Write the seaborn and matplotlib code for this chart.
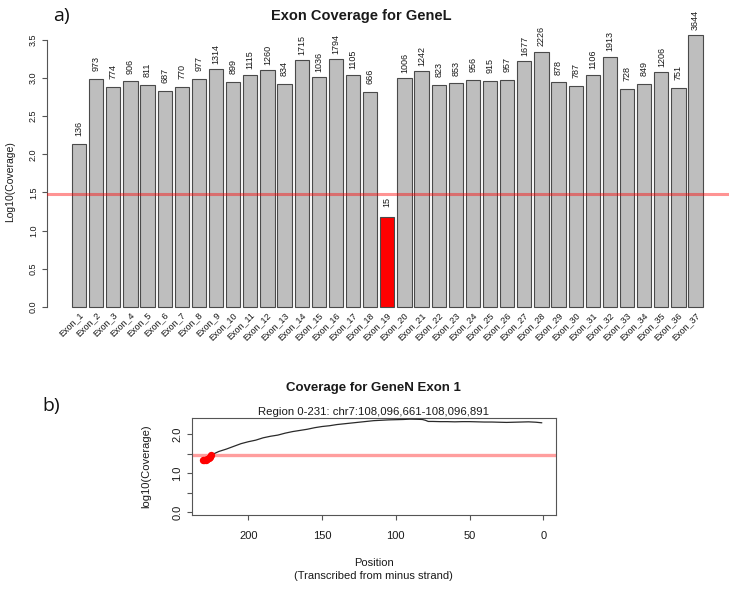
import numpy as np
import pandas as pd
import matplotlib
matplotlib.use("Agg")
import matplotlib.pyplot as plt
import seaborn as sns

# ---------------- data ----------------
exon_names = ["Exon_1", "Exon_2", "Exon_3", "Exon_4", "Exon_5", "Exon_6", "Exon_7",
              "Exon_8", "Exon_9", "Exon_10", "Exon_11", "Exon_12", "Exon_13", "Exon_14",
              "Exon_15", "Exon_16", "Exon_17", "Exon_18", "Exon_19", "Exon_20", "Exon_21",
              "Exon_22", "Exon_23", "Exon_24", "Exon_25", "Exon_26", "Exon_27", "Exon_28",
              "Exon_29", "Exon_30", "Exon_31", "Exon_32", "Exon_33", "Exon_34", "Exon_35",
              "Exon_36", "Exon_37"]
exon_counts = [136, 973, 774, 906, 811, 687, 770, 977, 1314, 899, 1115, 1260, 834,
               1715, 1036, 1794, 1105, 666, 15, 1006, 1242, 823, 853, 956, 915, 957,
               1677, 2226, 878, 787, 1106, 1913, 728, 849, 1206, 751, 3644]
threshold = 30

# panel b: per-position log10 coverage
low_pos = [231, 230, 229, 228, 227, 226, 225]
low_val = [1.33, 1.33, 1.35, 1.37, 1.40, 1.43, 1.46]
line_pos = [224, 220, 215, 210, 205, 200, 195, 190, 185, 180, 175, 170, 165, 160,
            155, 150, 145, 140, 135, 130, 125, 120, 115, 110, 105, 100, 95, 90, 85,
            82, 80, 78, 75, 70, 65, 60, 55, 50, 45, 40, 35, 30, 25, 20, 15, 10, 5, 1]
line_val = [1.49, 1.56, 1.62, 1.69, 1.76, 1.81, 1.85, 1.91, 1.95, 1.98, 2.03, 2.07,
            2.10, 2.13, 2.17, 2.20, 2.22, 2.25, 2.27, 2.29, 2.31, 2.33, 2.35, 2.36,
            2.37, 2.375, 2.38, 2.39, 2.385, 2.38, 2.36, 2.33, 2.33, 2.325, 2.325,
            2.32, 2.325, 2.325, 2.32, 2.315, 2.315, 2.31, 2.305, 2.31, 2.315, 2.32,
            2.31, 2.295]
b_xticks = [200, 150, 100, 50, 0]
b_yticks = [0.0, 0.5, 1.0, 1.5, 2.0]
b_yticklabels = ["0.0", "", "1.0", "", "2.0"]

# ---------------- style ----------------
sns.set_theme(style="white")
plt.rcParams["font.family"] = ["Liberation Sans", "DejaVu Sans"]
AX = "#555555"
TXT = "#1a1a1a"

W, H = 733, 589
fig = plt.figure(figsize=(W / 100, H / 100), dpi=100)


def rect(x0, y0, x1, y1):
    return [x0 / W, 1 - y1 / H, (x1 - x0) / W, (y1 - y0) / H]


# ---------------- panel a ----------------
axa = fig.add_axes(rect(47, 24.5, 729, 317.6))
df = pd.DataFrame({"exon": exon_names, "count": exon_counts})
df["logcov"] = np.log10(df["count"])
df["flag"] = np.where(df["count"] < threshold, "low", "ok")
sns.barplot(data=df, x="exon", y="logcov", hue="flag",
            palette={"low": "#ff0000", "ok": "#bebebe"}, saturation=1,
            width=0.835, dodge=False, edgecolor="#4a4a4a", linewidth=0.8,
            legend=False, ax=axa, zorder=2)
axa.set_xlim(-1.87, 37.95)
axa.set_ylim(-0.1425, 3.704)
axa.axhline(np.log10(threshold), color="#ff0000", alpha=0.42, lw=2.2, zorder=5)

for i, (c, h) in enumerate(zip(df["count"], df["logcov"])):
    axa.text(i, h + 0.2, str(c), rotation=90, ha="center", va="center",
             fontsize=6.5, color=TXT)
for i, name in enumerate(exon_names):
    axa.text(i - 0.05, -0.05, name, rotation=45, ha="right", va="top",
             rotation_mode="anchor", fontsize=6.5, color=TXT, clip_on=False)

axa.set_xticks([])
axa.set_xlabel("")
yt = np.arange(0, 3.51, 0.5)
axa.set_yticks(yt)
axa.set_yticklabels([f"{v:.1f}" for v in yt], rotation=90, va="center",
                    fontsize=6.5, color=TXT)
for s in ["top", "right", "bottom"]:
    axa.spines[s].set_visible(False)
axa.spines["left"].set_bounds(0, 3.5)
axa.spines["left"].set_color(AX)
axa.spines["left"].set_linewidth(0.8)
axa.tick_params(axis="y", direction="out", length=3.6, width=0.8, color=AX,
                pad=3, left=True)
axa.set_ylabel("Log10(Coverage)", fontsize=7.5, color=TXT)
axa.yaxis.set_label_coords(-0.047, 0.4626)
axa.set_title("Exon Coverage for GeneL", fontsize=10.5, fontweight="bold",
              color=TXT, x=0.4604, pad=3.2)

# ---------------- panel b ----------------
axb = fig.add_axes(rect(191.7, 417.7, 556, 515))
all_pos = low_pos + line_pos
all_val = low_val + line_val
sns.lineplot(x=all_pos, y=all_val, ax=axb, color="#2a2a2a", linewidth=0.9,
             estimator=None, sort=False, zorder=3)
sns.scatterplot(x=low_pos, y=low_val, ax=axb, color="#ff0000", s=28,
                linewidth=0, zorder=4)
axb.axhline(np.log10(threshold), color="#ff0000", alpha=0.38, lw=2.4, zorder=2)
axb.set_xlim(238.4, -8.6)
axb.set_ylim(-0.069, 2.426)
axb.set_xticks(b_xticks)
axb.set_xticklabels([str(v) for v in b_xticks], fontsize=8, color=TXT)
axb.set_yticks(b_yticks)
axb.set_yticklabels(b_yticklabels, rotation=90, va="center", fontsize=8, color=TXT)
for s in axb.spines.values():
    s.set_visible(True)
    s.set_color(AX)
    s.set_linewidth(0.8)
axb.tick_params(axis="both", direction="out", length=3.6, width=0.8, color=AX,
                bottom=True, left=True)
axb.tick_params(axis="x", pad=8)
axb.tick_params(axis="y", pad=3)
axb.set_xlabel("Position\n(Transcribed from minus strand)", fontsize=8,
               color=TXT, linespacing=1.35)
axb.xaxis.set_label_coords(0.5, -0.44)
axb.set_ylabel("log10(Coverage)", fontsize=8, color=TXT)
axb.yaxis.set_label_coords(-0.112, 0.5)
axb.text(0.5, 1.305, "Coverage for GeneN Exon 1", transform=axb.transAxes,
         ha="center", va="center", fontsize=9.5, fontweight="bold", color=TXT)
axb.text(0.5, 1.062, "Region 0-231: chr7:108,096,661-108,096,891",
         transform=axb.transAxes, ha="center", va="center", fontsize=8.2, color=TXT)

# panel letters
fig.text(53 / W, 1 - 16 / H, "a)", fontsize=14, family="Open Sans",
         ha="left", va="center", color="#111111")
fig.text(42 / W, 1 - 406 / H, "b)", fontsize=14, family="Open Sans",
         ha="left", va="center", color="#111111")

fig.savefig("out.png", dpi=100, facecolor="white")
